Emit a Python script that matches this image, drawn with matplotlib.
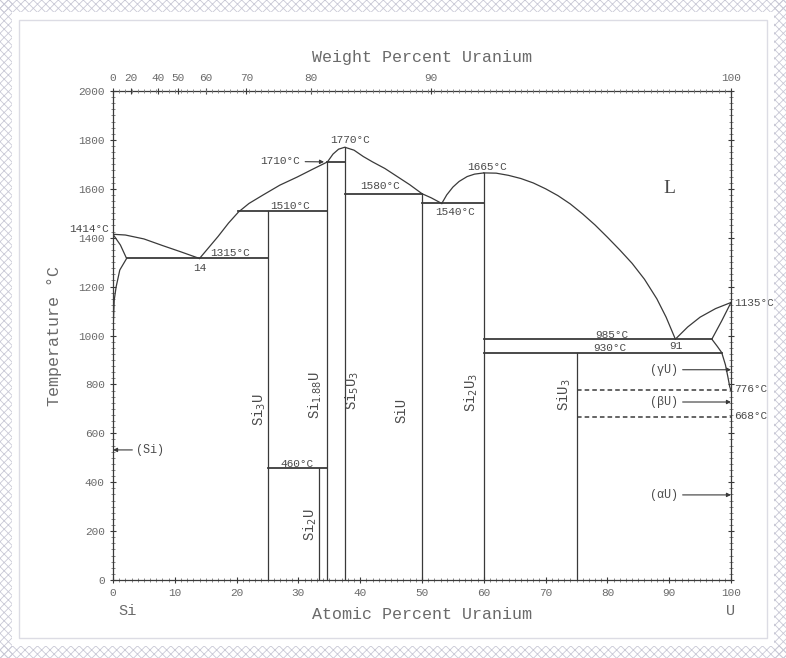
import matplotlib.pyplot as plt
from matplotlib.patches import Rectangle
from matplotlib.ticker import MultipleLocator

LINE = "#3a3a3a"
TXT = "#4a4a4a"
MONO = "Liberation Mono"

# liquidus and solidus branches (at.% U, deg C)
liq_si_x = [0, 2, 5, 8, 11, 14]
liq_si_t = [1414, 1411, 1395, 1368, 1342, 1315]
sol_si_x = [0, 1.2, 2.2, 1.1, 0.5, 0.2, 0.05]
sol_si_t = [1414, 1370, 1315, 1268, 1198, 1145, 1050]
liq_a_x = [14, 15.5, 17, 18.7, 20.3, 22, 24.3, 27, 29.8, 32.3, 34.7]
liq_a_t = [1315, 1360, 1405, 1460, 1505, 1540, 1575, 1615, 1648, 1680, 1710]
liq_b_x = [34.7, 35.6, 36.5, 37.5, 39, 40.5, 42, 44, 46, 48, 50]
liq_b_t = [1710, 1742, 1762, 1770, 1758, 1732, 1710, 1683, 1650, 1617, 1580]
liq_c_x = [50, 51.5, 53.2]
liq_c_t = [1580, 1563, 1540]
liq_d_x = [53.2, 54, 55, 56, 57.3, 58.5, 60]
liq_d_t = [1540, 1575, 1607, 1630, 1650, 1660, 1665]
liq_e_x = [60, 62, 64, 66, 68, 70, 72, 74, 76, 78, 80, 82, 84, 86, 88, 89.5, 91]
liq_e_t = [1665, 1664, 1655, 1642, 1624, 1600, 1572, 1538, 1497, 1452, 1402,
           1350, 1295, 1230, 1150, 1075, 985]
liq_u_x = [91, 93, 95, 97.5, 100]
liq_u_t = [985, 1035, 1075, 1110, 1135]
sol_u_x = [100, 98.5, 96.9, 97.8, 98.5, 99.1, 99.5, 99.8, 100]
sol_u_t = [1135, 1060, 985, 955, 930, 880, 830, 790, 776]

# invariant lines: (x_start, x_end, temperature)
iso_x0 = [2.2, 20.3, 34.7, 37.5, 50, 60, 60, 25]
iso_x1 = [25, 34.7, 37.5, 50, 60, 96.9, 98.5, 34.7]
iso_t = [1315, 1510, 1710, 1580, 1540, 985, 930, 460]
dash_x0 = [75, 75]
dash_x1 = [100, 100]
dash_t = [776, 668]

# compounds: composition, top temperature, label
comp_x = [25, 33.3, 34.7, 37.5, 50, 60, 75]
comp_top = [1510, 460, 1710, 1770, 1580, 1665, 930]
comp_names = ["Si$_3$U", "Si$_2$U", "Si$_{1.88}$U", "Si$_5$U$_3$", "SiU",
              "Si$_2$U$_3$", "SiU$_3$"]
comp_lx = [23.6, 32.0, 32.7, 38.8, 46.6, 57.9, 73.1]
comp_ly = [695, 225, 757, 777, 695, 769, 757]

# temperature annotations
note_text = ["1414°C", "1315°C", "14", "1510°C", "1770°C", "1580°C", "1540°C",
             "1665°C", "985°C", "930°C", "91", "460°C"]
note_x = [-0.6, 18.9, 14.1, 28.6, 38.3, 43.2, 55.3, 60.5, 80.7, 80.4, 91.0, 29.8]
note_t = [1436, 1337, 1276, 1530, 1800, 1611, 1505, 1689, 1002, 949, 957, 474]
note_ha = ["right", "center", "center", "center", "center", "center", "center",
           "center", "center", "center", "center", "center"]
right_text = ["1135°C", "776°C", "668°C"]
right_t = [1133, 781, 671]

# allotrope arrows on the U side
allo_text = ["(γU)", "(βU)", "(αU)"]
allo_t = [860, 728, 348]

wt_ticks = [0, 20, 40, 50, 60, 70, 80, 90, 100]
M_SI, M_U = 28.086, 238.03


def wt_to_at(w):
    if w >= 100:
        return 100.0
    a = w / M_U
    b = (100 - w) / M_SI
    return 100 * a / (a + b)


fig = plt.figure(figsize=(7.86, 6.58), dpi=100)
fig.patch.set_facecolor("white")

# textured frame round the page
plt.rcParams["hatch.linewidth"] = 0.6
W, H = 786, 658
band = 12
for (x0, y0, w, h) in [(0, 0, W, band), (0, H - band, W, band),
                       (0, 0, band, H), (W - band, 0, band, H)]:
    fig.patches.append(Rectangle((x0 / W, y0 / H), w / W, h / H,
                                 transform=fig.transFigure, fill=False,
                                 hatch="xxxx", edgecolor="#c9c9d6", lw=0))
fig.patches.append(Rectangle((19 / W, 20 / H), (W - 38) / W, (H - 40) / H,
                             transform=fig.transFigure, fill=False,
                             edgecolor="#dcdce4", lw=1.0))

ax = fig.add_axes([113 / W, 1 - 580 / H, 618 / W, 489 / H])
ax.set_xlim(0, 100)
ax.set_ylim(0, 2000)
for s in ax.spines.values():
    s.set_color(LINE)
    s.set_linewidth(0.9)

kw = dict(color=LINE, lw=0.9)
for xs, ts in [(liq_si_x, liq_si_t), (sol_si_x, sol_si_t), (liq_a_x, liq_a_t),
               (liq_b_x, liq_b_t), (liq_c_x, liq_c_t), (liq_d_x, liq_d_t),
               (liq_e_x, liq_e_t), (liq_u_x, liq_u_t), (sol_u_x, sol_u_t)]:
    ax.plot(xs, ts, **kw)

for x0, x1, t in zip(iso_x0, iso_x1, iso_t):
    ax.plot([x0, x1], [t, t], color=LINE, lw=1.3)
for x0, x1, t in zip(dash_x0, dash_x1, dash_t):
    ax.plot([x0, x1], [t, t], color=LINE, lw=1.1, ls=(0, (3, 2)))
for x, top in zip(comp_x, comp_top):
    ax.plot([x, x], [0, top], **kw)

for name, lx, ly in zip(comp_names, comp_lx, comp_ly):
    ax.text(lx, ly, name, rotation=90, ha="center", va="center",
            fontsize=10, color=TXT, family=MONO)

for s, x, t, ha in zip(note_text, note_x, note_t, note_ha):
    ax.text(x, t, s, ha=ha, va="center", fontsize=8, color=TXT,
            family=MONO, clip_on=False)
for s, t in zip(right_text, right_t):
    ax.text(100.5, t, s, ha="left", va="center", fontsize=8, color=TXT,
            family=MONO, clip_on=False)

ax.annotate("1710°C", xy=(34.6, 1710), xytext=(30.2, 1712), ha="right",
            va="center", fontsize=8, color=TXT, family=MONO,
            arrowprops=dict(arrowstyle="-|>", color=LINE, lw=0.8,
                            mutation_scale=6))
for s, t in zip(allo_text, allo_t):
    ax.annotate(s, xy=(100, t), xytext=(91.5, t), ha="right", va="center",
                fontsize=8.5, color=TXT, family=MONO,
                arrowprops=dict(arrowstyle="-|>", color=LINE, lw=0.8,
                                mutation_scale=6, shrinkA=1, shrinkB=0))
ax.annotate("(Si)", xy=(0, 532), xytext=(3.8, 532), ha="left", va="center",
            fontsize=8.5, color=TXT, family=MONO,
            arrowprops=dict(arrowstyle="-|>", color=LINE, lw=0.8,
                            mutation_scale=6, shrinkA=1, shrinkB=0))
ax.text(90.1, 1603, "L", ha="center", va="center", fontsize=14,
        color=TXT, family="Liberation Serif")

ax.set_xticks(range(0, 101, 10))
ax.set_yticks(range(0, 2001, 200))
ax.xaxis.set_minor_locator(MultipleLocator(1))
ax.yaxis.set_minor_locator(MultipleLocator(25))
ax.tick_params(which="major", direction="inout", length=5, width=0.8,
               color=LINE, labelsize=8, labelcolor="#6a6a6a",
               right=True, top=False)
ax.tick_params(which="minor", direction="inout", length=2.5, width=0.6,
               color="#777777", right=True, top=False)
for lab in ax.get_xticklabels() + ax.get_yticklabels():
    lab.set_family(MONO)

ax.set_xlabel("Atomic Percent Uranium", family=MONO, fontsize=12,
              color="#6a6a6a", labelpad=6)
ax.set_ylabel("Temperature °C", family=MONO, fontsize=12, color="#6a6a6a",
              labelpad=12)
ax.text(0.8, -100, "Si", ha="left", va="top", fontsize=11, color="#6a6a6a",
        family=MONO, clip_on=False)
ax.text(100, -100, "U", ha="center", va="top", fontsize=11, color="#6a6a6a",
        family=MONO, clip_on=False)

# weight percent scale along the top
ax2 = ax.twiny()
ax2.set_xlim(0, 100)
ax2.set_xticks([wt_to_at(w) for w in wt_ticks])
ax2.set_xticklabels([str(w) for w in wt_ticks])
ax2.xaxis.set_minor_locator(MultipleLocator(1))
ax2.tick_params(which="major", direction="inout", length=5, width=0.8,
                color=LINE, labelsize=8, labelcolor="#6a6a6a", pad=3)
ax2.tick_params(which="minor", direction="inout", length=2.5, width=0.6,
                color="#777777")
for lab in ax2.get_xticklabels():
    lab.set_family(MONO)
ax2.set_xlabel("Weight Percent Uranium", family=MONO, fontsize=12,
               color="#6a6a6a", labelpad=8)
for s in ax2.spines.values():
    s.set_visible(False)

fig.savefig("out.png", dpi=100)
